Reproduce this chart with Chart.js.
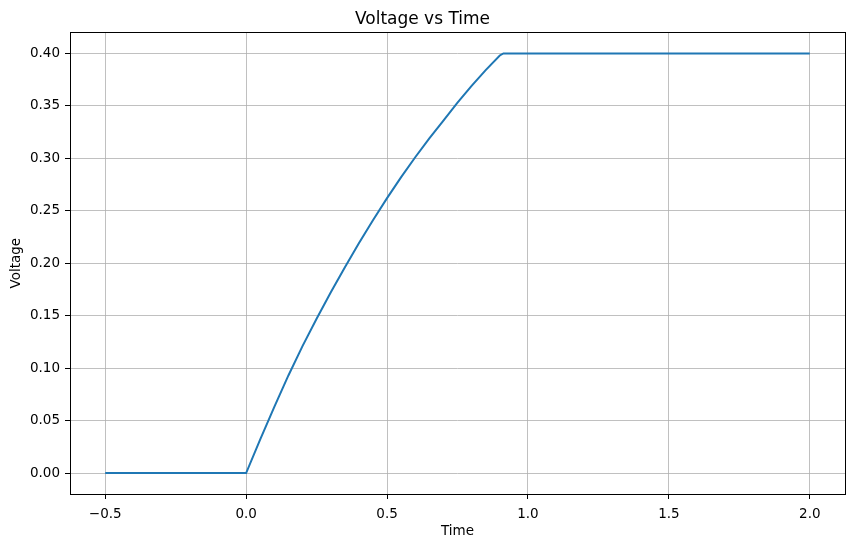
<!DOCTYPE html>
<html>
<head>
<meta charset="utf-8">
<script src="https://cdn.jsdelivr.net/npm/chart.js@4/dist/chart.umd.min.js"></script>
<style>
  body { margin: 0; background: #fff; }
  #wrap { width: 855px; height: 547px; }
</style>
</head>
<body>
<div id="wrap"><canvas id="voltageChart" width="855" height="547"></canvas></div>
<script>
// values
const timeValues = [-0.5, 0.0, 0.05, 0.1, 0.15, 0.2, 0.25, 0.3, 0.35, 0.4, 0.45, 0.5, 0.55, 0.6, 0.65, 0.7, 0.75, 0.8, 0.85, 0.9, 0.913, 2.0];
const voltageValues = [0.0, 0.0, 0.032, 0.063, 0.093, 0.121, 0.147, 0.172, 0.196, 0.219, 0.241, 0.262, 0.282, 0.301, 0.319, 0.336, 0.353, 0.369, 0.384, 0.398, 0.40, 0.40];
const xTicks = [-0.5, 0.0, 0.5, 1.0, 1.5, 2.0];
const yTicks = [0.0, 0.05, 0.10, 0.15, 0.20, 0.25, 0.30, 0.35, 0.40];

const FONT = "'DejaVu Sans', sans-serif";

// black box round the plot area, like matplotlib spines
const framePlugin = {
  id: "frame",
  afterDraw(chart) {
    const a = chart.chartArea;
    const ctx = chart.ctx;
    ctx.save();
    ctx.strokeStyle = "#000";
    ctx.lineWidth = 1;
    ctx.strokeRect(Math.round(a.left) + 0.5, Math.round(a.top) + 0.5,
      Math.round(a.right - a.left), Math.round(a.bottom - a.top));
    ctx.restore();
  },
};

document.addEventListener("DOMContentLoaded", function () {
  const ctx = document.getElementById("voltageChart").getContext("2d");

  new Chart(ctx, {
    type: "scatter",
    data: {
      datasets: [
        {
          label: "Voltage",
          data: timeValues.map((t, i) => ({ x: t, y: voltageValues[i] })),
          showLine: true,
          borderColor: "#1f77b4",
          borderWidth: 2,
          pointRadius: 0,
          tension: 0,
          fill: false,
        },
      ],
    },
    options: {
      responsive: false,
      animation: false,
      layout: { padding: { top: 0, right: 10, left: 0, bottom: 0 } },
      plugins: {
        legend: { display: false },
        tooltip: { enabled: false },
        title: {
          display: true,
          text: "Voltage vs Time",
          color: "#000",
          font: { family: FONT, size: 17, weight: "normal" },
          padding: { top: 9, bottom: 3 },
        },
      },
      scales: {
        x: {
          type: "linear",
          min: -0.625,
          max: 2.125,
          afterBuildTicks: (s) => { s.ticks = xTicks.map((v) => ({ value: v })); },
          afterFit: (s) => { s.height = 53; },
          ticks: {
            color: "#000",
            font: { family: FONT, size: 13.5 },
            padding: 7,
            autoSkip: false,
            maxRotation: 0,
            callback: (v) => v.toFixed(1).replace("-", "\u2212"),
          },
          grid: { color: "#b0b0b0", lineWidth: 0.8, tickColor: "#000", tickLength: 5, tickWidth: 1 },
          border: { display: false },
          title: {
            display: true,
            text: "Time",
            color: "#000",
            font: { family: FONT, size: 13.5 },
            padding: { top: 0, bottom: 7 },
          },
        },
        y: {
          type: "linear",
          min: -0.02,
          max: 0.42,
          afterBuildTicks: (s) => { s.ticks = yTicks.map((v) => ({ value: v })); },
          afterFit: (s) => { s.width = 70; },
          ticks: {
            color: "#000",
            font: { family: FONT, size: 13.5 },
            padding: 5,
            autoSkip: false,
            callback: (v) => v.toFixed(2),
          },
          grid: { color: "#b0b0b0", lineWidth: 0.8, tickColor: "#000", tickLength: 5, tickWidth: 1 },
          border: { display: false },
          title: {
            display: true,
            text: "Voltage",
            color: "#000",
            font: { family: FONT, size: 13.5 },
            padding: { top: 8, bottom: 0 },
          },
        },
      },
    },
    plugins: [framePlugin],
  });
});
</script>
</body>
</html>
